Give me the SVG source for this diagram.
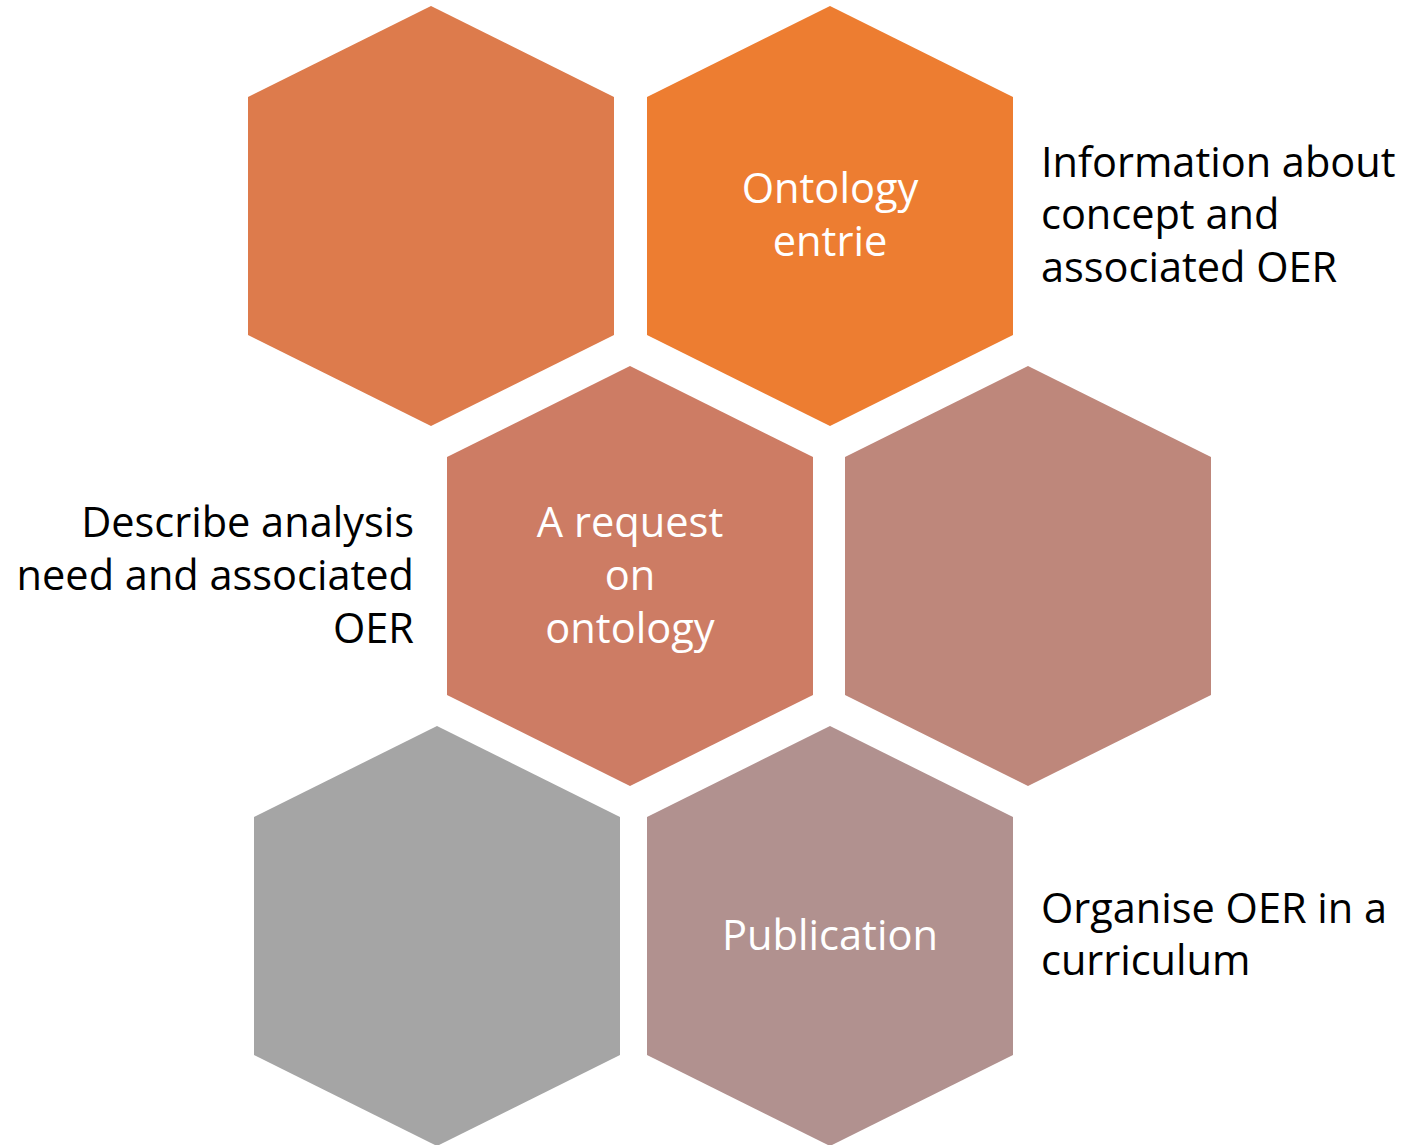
<svg xmlns="http://www.w3.org/2000/svg" width="1425" height="1145" viewBox="0 0 1425 1145">
<style>
.hex-label{font-family:"Open Sans","Liberation Sans",sans-serif;font-size:41.6px;fill:#ffffff;text-anchor:middle}
.side{font-family:"Open Sans","Liberation Sans",sans-serif;font-size:41.5px;fill:#000000}
</style>
<defs>
<polygon id="hexshape" points="0,-210 183,-119 183,119 0,210 -183,119 -183,-119"/>
</defs>
<rect width="1425" height="1145" fill="#ffffff"/>
<g id="connectors"></g>
<g id="hex-top-left"><use href="#hexshape" x="431" y="216" fill="#DD7B4C"/></g>
<g id="hex-ontology"><use href="#hexshape" x="830" y="216" fill="#ED7D31"/>
<text class="hex-label" x="830" y="203">Ontology</text>
<text class="hex-label" x="830" y="256">entrie</text></g>
<g id="hex-request"><use href="#hexshape" x="630" y="576" fill="#CD7C64"/>
<text class="hex-label" x="630" y="537">A request</text>
<text class="hex-label" x="630" y="590">on</text>
<text class="hex-label" x="630" y="643">ontology</text></g>
<g id="hex-mid-right"><use href="#hexshape" x="1028" y="576" fill="#BE877B"/></g>
<g id="hex-gray"><use href="#hexshape" x="437" y="936" fill="#A5A5A5"/></g>
<g id="hex-publication"><use href="#hexshape" x="830" y="936" fill="#B1918F"/>
<text class="hex-label" x="830" y="950">Publication</text></g>
<g id="label-info">
<text class="side" x="1041" y="177">Information about</text>
<text class="side" x="1041" y="229">concept and</text>
<text class="side" x="1041" y="282">associated OER</text></g>
<g id="label-describe">
<text class="side" x="414" y="537" text-anchor="end">Describe analysis</text>
<text class="side" x="414" y="590" text-anchor="end">need and associated</text>
<text class="side" x="414" y="643" text-anchor="end">OER</text></g>
<g id="label-organise">
<text class="side" x="1041" y="923">Organise OER in a</text>
<text class="side" x="1041" y="975">curriculum</text></g>
</svg>
